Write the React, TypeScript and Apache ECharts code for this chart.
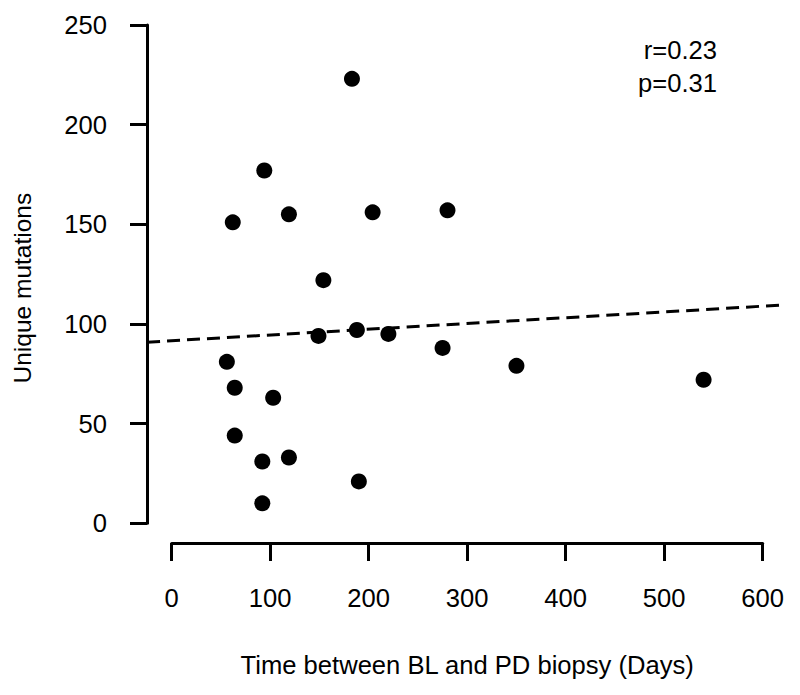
import React, { useEffect, useRef } from "react";
import * as echarts from "echarts";

// Data (x: days, y: unique mutations)
const daysBetween = [183, 94, 62, 119, 204, 280, 154, 56, 64, 103, 64, 92, 119, 92, 190, 149, 188, 220, 275, 350, 540];
const uniqueMutations = [223, 177, 151, 155, 156, 157, 122, 81, 68, 63, 44, 31, 33, 10, 21, 94, 97, 95, 88, 79, 72];

// Regression line (as drawn in the reference)
const fitIntercept = 91.6;
const fitSlope = 0.0289;
const fitXRange = [-25, 623];

// Axes
const xTicks = [0, 100, 200, 300, 400, 500, 600];
const yTicks = [0, 50, 100, 150, 200, 250];

const statLines = ["r=0.23", "p=0.31"];

const FONT = "'Liberation Sans', Arial, Helvetica, sans-serif";
const FS = 25.6;

export default function App() {
  const ref = useRef<HTMLDivElement>(null);

  useEffect(() => {
    document.body.style.margin = "0";
    if (!ref.current) return;
    const chart = echarts.init(ref.current, null, { renderer: "svg" });

    const points = daysBetween.map((d, i) => [d, uniqueMutations[i]]);
    const fitSegment = [
      fitXRange[0],
      fitIntercept + fitSlope * fitXRange[0],
      fitXRange[1],
      fitIntercept + fitSlope * fitXRange[1],
    ];

    const axisLineStyle = { color: "#000", width: 3 };

    chart.setOption({
      animation: false,
      backgroundColor: "#fff",
      textStyle: { fontFamily: FONT },
      grid: { left: 171.7, right: 37.3, top: 25, bottom: 171.7, containLabel: false },
      xAxis: {
        type: "value",
        min: xTicks[0],
        max: xTicks[xTicks.length - 1],
        interval: xTicks[1] - xTicks[0],
        offset: 19.7,
        name: "Time between BL and PD biopsy (Days)",
        nameLocation: "middle",
        nameGap: 109,
        nameTextStyle: { color: "#000", fontSize: FS, fontFamily: FONT },
        axisLine: { show: true, onZero: false, lineStyle: axisLineStyle },
        axisTick: { show: true, length: 18, lineStyle: axisLineStyle },
        axisLabel: { color: "#000", fontSize: FS, margin: 42, fontFamily: FONT },
        splitLine: { show: false },
      },
      yAxis: {
        type: "value",
        min: yTicks[0],
        max: yTicks[yTicks.length - 1],
        interval: yTicks[1] - yTicks[0],
        offset: 24.7,
        name: "Unique mutations",
        nameLocation: "middle",
        nameRotate: 90,
        nameGap: 112,
        nameTextStyle: { color: "#000", fontSize: 24.5, fontFamily: FONT, padding: [0, 28, 0, 0] },
        axisLine: { show: true, onZero: false, lineStyle: axisLineStyle },
        axisTick: { show: true, length: 17, lineStyle: axisLineStyle },
        axisLabel: { color: "#000", fontSize: FS, margin: 40, fontFamily: FONT },
        splitLine: { show: false },
      },
      series: [
        {
          type: "custom",
          data: [fitSegment],
          encode: { x: [0, 2], y: [1, 3] },
          clip: false,
          silent: true,
          z: 1,
          renderItem: (params: any, api: any) => {
            const p0 = api.coord([api.value(0), api.value(1)]);
            const p1 = api.coord([api.value(2), api.value(3)]);
            return {
              type: "line",
              shape: { x1: p0[0], y1: p0[1], x2: p1[0], y2: p1[1] },
              style: { stroke: "#000", lineWidth: 3, lineDash: [13, 7], fill: null },
            };
          },
        },
        {
          type: "scatter",
          data: points,
          symbol: "circle",
          symbolSize: 16,
          itemStyle: { color: "#000", opacity: 1 },
          clip: false,
          z: 2,
        },
      ],
      graphic: statLines.map((t, i) => ({
        type: "text",
        right: 83,
        top: 37 + i * 33,
        style: { text: t, fill: "#000", font: `${FS}px ${FONT}`, textAlign: "right" },
      })),
    });

    return () => chart.dispose();
  }, []);

  return <div ref={ref} style={{ width: 800, height: 695 }} />;
}
